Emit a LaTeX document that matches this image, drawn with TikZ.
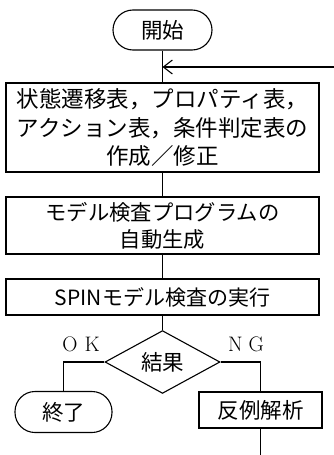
\documentclass[tikz,border=0pt]{standalone}
\usepackage{fontspec}
\newfontfamily\jp{Noto Sans CJK JP}
\usetikzlibrary{shapes.geometric,arrows.meta}
\begin{document}
\begin{tikzpicture}[x=1pt,y=-1pt,line width=1.1pt,
  jtext/.style={font=\jp\fontsize{21.5}{28.5}\selectfont},
  box/.style={draw,rectangle,inner sep=0pt,align=center,jtext},
  term/.style={draw,rectangle,rounded corners=20pt,inner sep=0pt,jtext},
  dec/.style={draw,diamond,inner sep=0pt,jtext},
  lab/.style={font=\fontsize{21}{21}\selectfont},
  conn/.style={draw}]
\useasboundingbox (0,0) rectangle (334,455);
\node[term,minimum width=99pt,minimum height=40pt] (start) at (162.5,30) {開始};
\node[box,minimum width=313pt,minimum height=89pt,font=\jp\fontsize{22.5}{28.5}\selectfont] (b1) at (162.5,127.5)
  {状態遷移表，プロパティ表，\\アクション表，条件判定表の\\作成／修正};
\node[box,minimum width=313pt,minimum height=57pt,font=\jp\fontsize{21.3}{27}\selectfont] (b2) at (162.5,225.5)
  {モデル検査プログラムの\\自動生成};
\node[box,minimum width=313pt,minimum height=36pt,font=\jp\fontsize{21}{27}\selectfont] (b3) at (162.5,297) {SPINモデル検査の実行};
\node[dec,minimum width=115pt,minimum height=58pt] (dia) at (162.5,362) {結果};
\node[term,minimum width=97pt,minimum height=41pt] (fin) at (63.5,412) {終了};
\node[box,minimum width=123pt,minimum height=36pt] (ana) at (260.5,410) {反例解析};
\node[lab] (ok) at (81,344) {O\hspace{7pt}K};
\node[lab] (ng) at (246,344) {N\hspace{6pt}G};
\coordinate (loopin) at (334,67);
\coordinate (bot) at (260.5,455);
\draw (start.south) -- (b1.north);
\draw (b1.south) -- (b2.north);
\draw (b2.south) -- (b3.north);
\draw (b3.south) -- (dia.north);
\draw (dia.west) -| (fin.north);
\draw (dia.east) -| (ana.north);
\draw (ana.south) -- (bot);
\draw[-{Straight Barb[length=9pt,width=14pt]}] (loopin) -- (loopin -| start);
\end{tikzpicture}
\end{document}
